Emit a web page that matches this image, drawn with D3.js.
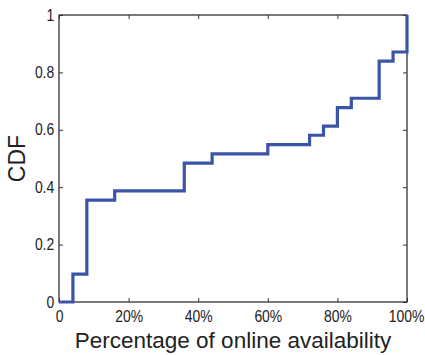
<!DOCTYPE html>
<head>
	<meta charset="utf-8">
	<title>CDF of online availability</title>
	<script src="https://cdn.jsdelivr.net/npm/d3@7/dist/d3.min.js"></script>
	<style>
		body { margin: 0; background: #fff; }
		text { font-family: "Liberation Sans", Arial, sans-serif; fill: #222; }
	</style>
</head>

<body>
	<div id="chart"></div>

  <script>
		// availability (%) where each step starts, and the CDF value after it
		var availability = [0, 4, 8, 16, 36, 44, 60, 72, 76, 80, 84, 92, 96, 100];
		var cdf = [0, 0.097, 0.355, 0.387, 0.484, 0.516, 0.548, 0.581, 0.613, 0.677, 0.710, 0.839, 0.871, 1];
		var xTicks = [0, 20, 40, 60, 80, 100];
		var yTicks = [0, 0.2, 0.4, 0.6, 0.8, 1];

		var width = 425, height = 355;
		var margin = {top: 15, right: 18, bottom: 53, left: 59};
		var w = width - margin.left - margin.right;
		var h = height - margin.top - margin.bottom;

		var svg = d3.select("#chart").append("svg")
			.attr("width", width)
			.attr("height", height);
		var g = svg.append("g")
			.attr("transform", "translate(" + margin.left + "," + margin.top + ")");

		var x = d3.scaleLinear().domain([0, 100]).range([0, w]);
		var y = d3.scaleLinear().domain([0, 1]).range([h, 0]);

		// matlab-ish tick labels: a bit taller than they are wide
		function styleAxis(sel) {
			sel.select(".domain").remove();
			sel.selectAll(".tick line").attr("stroke", "#333").attr("stroke-width", 1);
			sel.selectAll(".tick text")
				.style("font-size", "16px")
				.attr("fill", "#222")
				.attr("transform", "scale(0.87,1)");
		}

		// bottom / top
		var xAxis = g.append("g")
			.attr("transform", "translate(0," + h + ")")
			.call(d3.axisBottom(x).tickValues(xTicks).tickSize(-4).tickPadding(9)
				.tickFormat(function (d) { return d === 0 ? "0" : d + "%"; }))
			.call(styleAxis);
		xAxis.selectAll(".tick text").filter(function (d) { return d === 100; }).attr("dx", -1);
		g.append("g")
			.call(d3.axisTop(x).tickValues(xTicks).tickSize(-4).tickFormat(""))
			.call(styleAxis);

		// left / right
		g.append("g")
			.call(d3.axisLeft(y).tickValues(yTicks).tickSize(-4).tickPadding(5.5)
				.tickFormat(function (d) { return d === 0 ? "0" : d === 1 ? "1" : d3.format(".1f")(d); }))
			.call(styleAxis);
		g.append("g")
			.attr("transform", "translate(" + w + ",0)")
			.call(d3.axisRight(y).tickValues(yTicks).tickSize(-4).tickFormat(""))
			.call(styleAxis);

		// box
		g.append("rect")
			.attr("width", w)
			.attr("height", h)
			.attr("fill", "none")
			.attr("stroke", "#333")
			.attr("stroke-width", 1.3);

		var pts = availability.map(function (a, i) { return [a, cdf[i]]; });
		var line = d3.line()
			.x(function (d) { return x(d[0]); })
			.y(function (d) { return y(d[1]); })
			.curve(d3.curveStepAfter);

		g.append("path")
			.datum(pts)
			.attr("d", line)
			.attr("fill", "none")
			.attr("stroke", "#3a55a8")
			.attr("stroke-width", 3.2);

		// labels
		svg.append("text")
			.attr("x", margin.left + w / 2)
			.attr("y", 348)
			.attr("text-anchor", "middle")
			.style("font-size", "22.5px")
			.text("Percentage of online availability");

		svg.append("text")
			.attr("transform", "translate(25," + (margin.top + h / 2) + ") rotate(-90)")
			.attr("text-anchor", "middle")
			.style("font-size", "23px")
			.text("CDF");
	</script>
</body>
</html>
